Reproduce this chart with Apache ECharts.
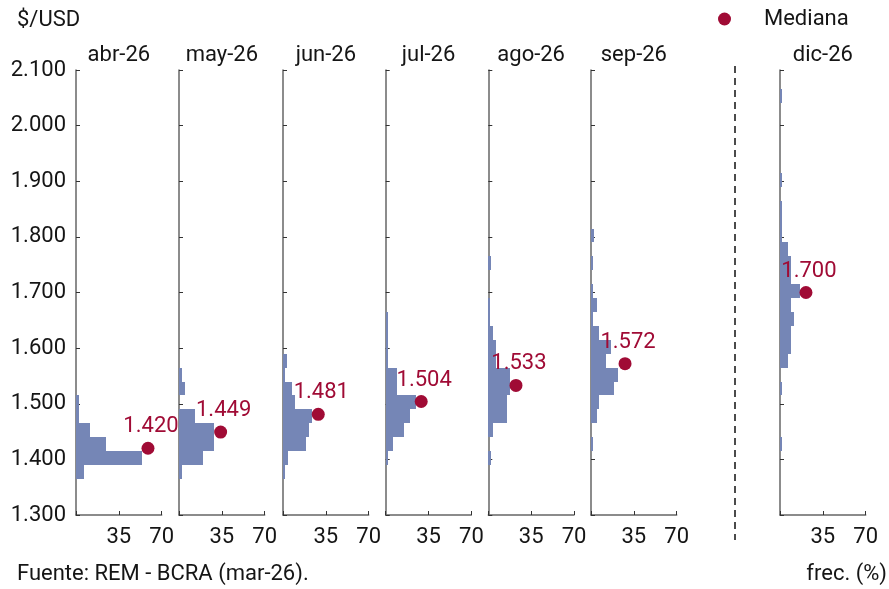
<!DOCTYPE html>
<html>
<head>
<meta charset="utf-8">
<script src="https://cdn.jsdelivr.net/npm/echarts@6/dist/echarts.min.js"></script>
<style>
html,body{margin:0;padding:0;background:#fff;}
#chart{width:889px;height:589px;}
</style>
</head>
<body>
<div id="chart"></div>
<script>
// ---- data ----
const months = ['abr-26', 'may-26', 'jun-26', 'jul-26', 'ago-26', 'sep-26', 'dic-26'];
const medians = [1420, 1449, 1481, 1504, 1533, 1572, 1700];
const medianFreqPos = [58.8, 34, 28.8, 29, 22.6, 27.8, 21.2];
const binWidth = 25;

const abrBins = [1365, 1390, 1415, 1440, 1465, 1490];
const abrFreq = [6.8, 54, 24.5, 11.7, 2.5, 2.5];

const mayBins = [1365, 1390, 1415, 1440, 1465, 1515, 1540];
const mayFreq = [2.1, 20, 28.8, 28.8, 13.3, 4.6, 2.5];

const junBins = [1365, 1390, 1415, 1440, 1465, 1490, 1515, 1540, 1565];
const junFreq = [1.4, 4.1, 18.5, 21, 23.6, 10, 7.4, 1.5, 3.6];

const julBins = [1390, 1415, 1440, 1465, 1490, 1515, 1540, 1565, 1590, 1615, 1640];
const julFreq = [1.5, 6.2, 14.9, 19.8, 24.4, 8.9, 8.9, 1.8, 1.8, 1.8, 1.8];

const agoBins = [1390, 1440, 1465, 1490, 1515, 1540, 1565, 1590, 1615, 1640, 1665, 1740];
const agoFreq = [2, 3.6, 15.5, 15.5, 17.8, 17.8, 6, 6, 3.6, 1.5, 1.5, 2];

const sepBins = [1415, 1465, 1490, 1515, 1540, 1565, 1590, 1615, 1640, 1665, 1690, 1740, 1790];
const sepFreq = [2, 4.6, 6.6, 18.8, 22.3, 12, 16.1, 6.6, 1.5, 4.6, 2, 2, 2.5];

const dicBins = [1415, 1515, 1565, 1590, 1615, 1640, 1665, 1690, 1715, 1740, 1765, 1790, 1815, 1840, 1890, 2040];
const dicFreq = [1.4, 1.4, 6.8, 8.9, 8.9, 11.2, 8.9, 16.3, 8.9, 8.9, 6.8, 1.4, 1.4, 1.4, 1.6, 1.6];

const yTicks = [1300, 1400, 1500, 1600, 1700, 1800, 1900, 2000, 2100];
const xTicks = [35, 70];

const binsAll = [abrBins, mayBins, junBins, julBins, agoBins, sepBins, dicBins];
const freqAll = [abrFreq, mayFreq, junFreq, julFreq, agoFreq, sepFreq, dicFreq];

// ---- layout / style ----
const FONT = 'Roboto';
const FS = 22;
const textColor = '#151515';
const barColor = '#7586B6';
const medColor = '#A00B35';
const axisColor = '#666';
const gridLefts = [76, 179, 283, 385.7, 488.3, 591, 780];
const gridW = 85.7, gridTop = 70, gridH = 445;

function fmt(v) {
  const s = String(Math.round(v));
  return s.length > 3 ? s.slice(0, s.length - 3) + '.' + s.slice(-3) : s;
}

const grids = [], xAxes = [], yAxes = [], series = [], graphics = [];
months.forEach((m, i) => {
  grids.push({ left: gridLefts[i], top: gridTop, width: gridW, height: gridH });
  xAxes.push({
    type: 'value', gridIndex: i, min: 0, max: 70, interval: 35,
    axisLine: { show: true, lineStyle: { color: axisColor, width: 1.5 } },
    axisTick: { show: true, inside: true, length: 4, lineStyle: { color: '#333' } },
    splitLine: { show: false },
    axisLabel: {
      fontFamily: FONT, fontSize: FS, color: textColor, margin: 11,
      formatter: v => (xTicks.indexOf(v) >= 0 ? String(v) : '')
    }
  });
  yAxes.push({
    type: 'value', gridIndex: i, min: 1300, max: 2100, interval: 100,
    axisLine: { show: true, lineStyle: { color: axisColor, width: 1.5 } },
    axisTick: { show: true, inside: true, length: 4, lineStyle: { color: '#333' } },
    splitLine: { show: false },
    axisLabel: {
      show: i === 0, fontFamily: FONT, fontSize: FS, color: textColor, margin: 10,
      formatter: v => (yTicks.indexOf(v) >= 0 ? fmt(v) : '')
    }
  });
  const data = binsAll[i].map((lo, k) => [lo, lo + binWidth, freqAll[i][k]]);
  series.push({
    type: 'custom', xAxisIndex: i, yAxisIndex: i,
    encode: { x: 2, y: [0, 1] },
    data: data,
    renderItem: function (params, api) {
      const lo = api.value(0), hi = api.value(1), f = api.value(2);
      const a = api.coord([0, hi]);
      const b = api.coord([f, lo]);
      const x0 = Math.round(a[0]), x1 = Math.round(b[0]);
      const y0 = Math.round(a[1]), y1 = Math.round(b[1]);
      return {
        type: 'rect',
        shape: { x: x0, y: y0, width: Math.max(1, x1 - x0), height: y1 - y0 },
        style: { fill: barColor }
      };
    },
    z: 2
  });
  series.push({
    name: 'Mediana', type: 'scatter', xAxisIndex: i, yAxisIndex: i,
    symbol: 'circle', symbolSize: 13,
    itemStyle: { color: medColor, opacity: 1 },
    data: [[medianFreqPos[i], medians[i]]],
    label: {
      show: true, position: 'top', distance: 4, offset: [3, 0],
      fontFamily: FONT, fontSize: FS, color: medColor,
      formatter: p => fmt(p.value[1])
    },
    z: 5
  });
  graphics.push({
    type: 'text', x: gridLefts[i] + gridW / 2, y: 55,
    style: { text: m, align: 'center', verticalAlign: 'middle', fontFamily: FONT, fontSize: FS, fill: textColor }
  });
});

graphics.push({
  type: 'text', x: 17, y: 20,
  style: { text: '$/USD', align: 'left', verticalAlign: 'middle', fontFamily: FONT, fontSize: FS, fill: textColor }
});
graphics.push({
  type: 'text', x: 17, y: 574,
  style: { text: 'Fuente: REM - BCRA (mar-26).', align: 'left', verticalAlign: 'middle', fontFamily: FONT, fontSize: FS, fill: textColor }
});
graphics.push({
  type: 'text', x: 887, y: 574,
  style: { text: 'frec. (%)', align: 'right', verticalAlign: 'middle', fontFamily: FONT, fontSize: FS, fill: textColor }
});
graphics.push({
  type: 'line', shape: { x1: 735, y1: 66, x2: 735, y2: 540 },
  style: { stroke: '#111', lineWidth: 1.5, lineDash: [7, 5] }
});

const chart = echarts.init(document.getElementById('chart'), null, { renderer: 'canvas' });
chart.setOption({
  backgroundColor: '#fff',
  animation: false,
  grid: grids,
  xAxis: xAxes,
  yAxis: yAxes,
  series: series,
  legend: {
    data: [{ name: 'Mediana', icon: 'circle' }],
    left: 713, top: 3,
    itemWidth: 13, itemHeight: 13, itemGap: 10,
    itemStyle: { opacity: 1 },
    textStyle: { fontFamily: FONT, fontSize: FS, color: textColor, padding: [0, 0, 0, 28] }
  },
  graphic: graphics
});
</script>
</body>
</html>
